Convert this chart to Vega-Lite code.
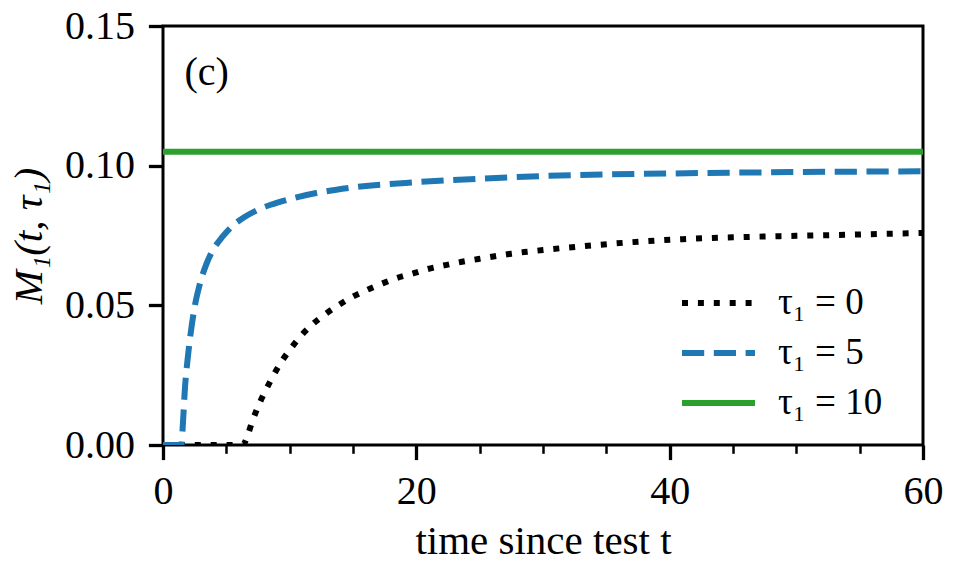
{
  "$schema": "https://vega.github.io/schema/vega-lite/v6.json",
  "width": 760,
  "height": 419,
  "autosize": "none",
  "padding": {"left": 163, "top": 26, "right": 34, "bottom": 126},
  "background": "white",
  "config": {
    "view": {"stroke": "black", "strokeWidth": 3},
    "font": "Liberation Serif",
    "legend": {"labelFont": "Liberation Serif", "labelFontSize": 37, "labelColor": "black", "labelLimit": 400}
  },
  "data": {
    "values": [
      {"t": 0, "M": 0, "series": "τ₁ = 0"},
      {"t": 3, "M": 0, "series": "τ₁ = 0"},
      {"t": 6.3, "M": 0, "series": "τ₁ = 0"},
      {"t": 6.6, "M": 0.0024, "series": "τ₁ = 0"},
      {"t": 7.0, "M": 0.0078, "series": "τ₁ = 0"},
      {"t": 7.5, "M": 0.0137, "series": "τ₁ = 0"},
      {"t": 8.05, "M": 0.0191, "series": "τ₁ = 0"},
      {"t": 8.6, "M": 0.0239, "series": "τ₁ = 0"},
      {"t": 9.25, "M": 0.0291, "series": "τ₁ = 0"},
      {"t": 10.0, "M": 0.034, "series": "τ₁ = 0"},
      {"t": 10.8, "M": 0.0386, "series": "τ₁ = 0"},
      {"t": 11.7, "M": 0.0428, "series": "τ₁ = 0"},
      {"t": 12.8, "M": 0.0468, "series": "τ₁ = 0"},
      {"t": 13.8, "M": 0.0499, "series": "τ₁ = 0"},
      {"t": 14.9, "M": 0.0529, "series": "τ₁ = 0"},
      {"t": 16.1, "M": 0.0555, "series": "τ₁ = 0"},
      {"t": 17.3, "M": 0.0578, "series": "τ₁ = 0"},
      {"t": 18.4, "M": 0.0597, "series": "τ₁ = 0"},
      {"t": 19.8, "M": 0.0615, "series": "τ₁ = 0"},
      {"t": 20.9, "M": 0.063, "series": "τ₁ = 0"},
      {"t": 22.3, "M": 0.0644, "series": "τ₁ = 0"},
      {"t": 23.6, "M": 0.0656, "series": "τ₁ = 0"},
      {"t": 24.9, "M": 0.0666, "series": "τ₁ = 0"},
      {"t": 26.2, "M": 0.0676, "series": "τ₁ = 0"},
      {"t": 27.5, "M": 0.0685, "series": "τ₁ = 0"},
      {"t": 28.8, "M": 0.0692, "series": "τ₁ = 0"},
      {"t": 30.0, "M": 0.0698, "series": "τ₁ = 0"},
      {"t": 34.0, "M": 0.0715, "series": "τ₁ = 0"},
      {"t": 37.6, "M": 0.0728, "series": "τ₁ = 0"},
      {"t": 41.0, "M": 0.0737, "series": "τ₁ = 0"},
      {"t": 45.5, "M": 0.0744, "series": "τ₁ = 0"},
      {"t": 50.0, "M": 0.0749, "series": "τ₁ = 0"},
      {"t": 53.4, "M": 0.0752, "series": "τ₁ = 0"},
      {"t": 57.0, "M": 0.0756, "series": "τ₁ = 0"},
      {"t": 60.0, "M": 0.0759, "series": "τ₁ = 0"},
      {"t": 0, "M": 0, "series": "τ₁ = 5"},
      {"t": 1.45, "M": 0, "series": "τ₁ = 5"},
      {"t": 1.55, "M": 0.006, "series": "τ₁ = 5"},
      {"t": 1.74, "M": 0.0209, "series": "τ₁ = 5"},
      {"t": 1.95, "M": 0.031, "series": "τ₁ = 5"},
      {"t": 2.2, "M": 0.0405, "series": "τ₁ = 5"},
      {"t": 2.5, "M": 0.0495, "series": "τ₁ = 5"},
      {"t": 2.9, "M": 0.0575, "series": "τ₁ = 5"},
      {"t": 3.4, "M": 0.0645, "series": "τ₁ = 5"},
      {"t": 4.0, "M": 0.0702, "series": "τ₁ = 5"},
      {"t": 4.7, "M": 0.0746, "series": "τ₁ = 5"},
      {"t": 5.5, "M": 0.0785, "series": "τ₁ = 5"},
      {"t": 6.4, "M": 0.0815, "series": "τ₁ = 5"},
      {"t": 7.4, "M": 0.0840, "series": "τ₁ = 5"},
      {"t": 8.5, "M": 0.0860, "series": "τ₁ = 5"},
      {"t": 9.8, "M": 0.0878, "series": "τ₁ = 5"},
      {"t": 12.1, "M": 0.0902, "series": "τ₁ = 5"},
      {"t": 14.8, "M": 0.0921, "series": "τ₁ = 5"},
      {"t": 20.0, "M": 0.0941, "series": "τ₁ = 5"},
      {"t": 25.3, "M": 0.0954, "series": "τ₁ = 5"},
      {"t": 30.0, "M": 0.0963, "series": "τ₁ = 5"},
      {"t": 40.0, "M": 0.0972, "series": "τ₁ = 5"},
      {"t": 50.0, "M": 0.0977, "series": "τ₁ = 5"},
      {"t": 60.0, "M": 0.098, "series": "τ₁ = 5"},
      {"t": 0, "M": 0.105, "series": "τ₁ = 10"},
      {"t": 60, "M": 0.105, "series": "τ₁ = 10"}
    ]
  },
  "layer": [
    {
      "mark": {"type": "line", "strokeWidth": 6, "clip": true, "interpolate": "monotone"},
      "encoding": {
        "x": {
          "field": "t",
          "type": "quantitative",
          "scale": {"domain": [0, 60], "nice": false, "zero": false},
          "axis": {
            "values": [0, 5, 10, 15, 20, 25, 30, 35, 40, 45, 50, 55, 60],
            "labelExpr": "datum.value % 20 === 0 ? datum.label : ''",
            "format": "d",
            "title": "time since test t",
            "titleFont": "Liberation Serif",
            "titleFontSize": 41,
            "titleFontWeight": "normal",
            "titleColor": "black",
            "titlePadding": 10,
            "labelFont": "Liberation Serif",
            "labelFontSize": 40,
            "labelColor": "black",
            "labelPadding": 12,
            "labelOverlap": false,
            "labelFlush": false,
            "domain": false,
            "grid": false,
            "tickColor": "black",
            "tickSize": {"condition": {"test": "datum.value % 20 === 0", "value": 14.6}, "value": 8.3},
            "tickWidth": {"condition": {"test": "datum.value % 20 === 0", "value": 3.3}, "value": 2.5}
          }
        },
        "y": {
          "field": "M",
          "type": "quantitative",
          "scale": {"domain": [0, 0.15], "nice": false},
          "axis": {
            "values": [0, 0.05, 0.1, 0.15],
            "format": ".2f",
            "title": "M₁(t, τ₁)",
            "titleFont": "Liberation Serif",
            "titleFontSize": 41,
            "titleFontWeight": "normal",
            "titleFontStyle": "italic",
            "titleColor": "black",
            "titlePadding": 14,
            "labelFont": "Liberation Serif",
            "labelFontSize": 40,
            "labelColor": "black",
            "labelPadding": 14,
            "labelOverlap": false,
            "labelFlush": false,
            "domain": false,
            "grid": false,
            "tickColor": "black",
            "tickSize": 14.6,
            "tickWidth": 3.3
          }
        },
        "color": {
          "field": "series",
          "type": "nominal",
          "scale": {"domain": ["τ₁ = 0", "τ₁ = 5", "τ₁ = 10"], "range": ["#000000", "#1f77b4", "#2ca02c"]},
          "legend": {
            "title": null,
            "orient": "none",
            "legendX": 516,
            "legendY": 260,
            "symbolType": "stroke",
            "symbolSize": 5329,
            "symbolStrokeWidth": 6,
            "clipHeight": 34,
            "labelFont": "Liberation Serif",
            "labelFontSize": 37,
            "labelColor": "black",
            "labelOffset": 20,
            "rowPadding": 13,
            "padding": 0
          }
        },
        "strokeDash": {
          "field": "series",
          "type": "nominal",
          "scale": {"domain": ["τ₁ = 0", "τ₁ = 5", "τ₁ = 10"], "range": [[6, 9.9], [22.2, 9.6], [1, 0]]},
          "legend": {
            "title": null,
            "orient": "none",
            "legendX": 516,
            "legendY": 260,
            "symbolType": "stroke",
            "symbolSize": 5329,
            "symbolStrokeWidth": 6,
            "clipHeight": 34,
            "labelFont": "Liberation Serif",
            "labelFontSize": 37,
            "labelColor": "black",
            "labelOffset": 20,
            "rowPadding": 13,
            "padding": 0
          }
        }
      }
    },
    {
      "data": {"values": [{}]},
      "mark": {"type": "text", "fontSize": 40, "align": "left", "baseline": "middle", "font": "Liberation Serif", "color": "black"},
      "encoding": {
        "x": {"datum": 1.7, "type": "quantitative"},
        "y": {"datum": 0.133, "type": "quantitative"},
        "text": {"value": "(c)"}
      }
    }
  ]
}
